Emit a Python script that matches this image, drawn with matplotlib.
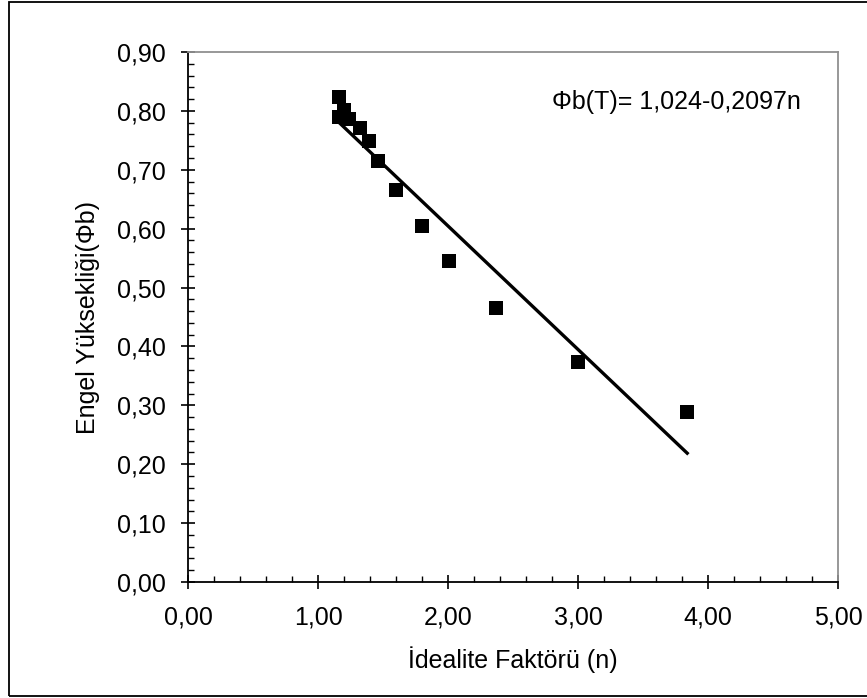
import matplotlib
matplotlib.use("Agg")
import matplotlib.pyplot as plt
from matplotlib.patches import Rectangle
from matplotlib.ticker import MultipleLocator, FuncFormatter

plt.rcParams["font.family"] = ["Liberation Sans", "DejaVu Sans"]

# ideality factor n vs barrier height
n_vals = [1.16, 1.20, 1.16, 1.24, 1.32, 1.39, 1.46, 1.60, 1.80, 2.01, 2.37, 3.00, 3.84]
phi_vals = [0.823, 0.801, 0.789, 0.787, 0.771, 0.749, 0.715, 0.665, 0.604, 0.545, 0.466, 0.374, 0.289]
fit_a, fit_b = 1.024, -0.2097
eq_text = "Φb(T)= 1,024-0,2097n"
xlabel = "İdealite Faktörü (n)"
ylabel = "Engel Yüksekliği(Φb)"

W, H, DPI = 867, 698, 100
fig = plt.figure(figsize=(W / DPI, H / DPI), dpi=DPI)
fig.patches.append(Rectangle((9 / W, 2 / H), 1.0, 694 / H, transform=fig.transFigure,
                             fill=False, edgecolor="black", linewidth=1.3))
ax = fig.add_axes([188 / W, 116 / H, 650 / W, 530 / H])

ax.scatter(n_vals, phi_vals, marker="s", s=95, color="black", zorder=3, linewidths=0)
x0, x1 = min(n_vals), max(n_vals)
ax.plot([x0, x1], [fit_a + fit_b * x0, fit_a + fit_b * x1], color="black", lw=2.4, zorder=2)

ax.set_xlim(0, 5)
ax.set_ylim(0, 0.9)
ax.xaxis.set_major_locator(MultipleLocator(1))
ax.xaxis.set_minor_locator(MultipleLocator(0.2))
ax.yaxis.set_major_locator(MultipleLocator(0.1))
ax.yaxis.set_minor_locator(MultipleLocator(0.02))
fmt = FuncFormatter(lambda v, p: f"{v:.2f}".replace(".", ","))
ax.xaxis.set_major_formatter(fmt)
ax.yaxis.set_major_formatter(fmt)

ax.tick_params(which="major", direction="inout", length=10, width=1.2, labelsize=18, pad=11)
ax.tick_params(which="minor", direction="in", length=4, width=1)
ax.tick_params(axis="x", which="major", pad=12)
for s in ("left", "bottom"):
    ax.spines[s].set_color("black")
    ax.spines[s].set_linewidth(1.3)
for s in ("top", "right"):
    ax.spines[s].set_color("#909090")
    ax.spines[s].set_linewidth(1.3)

ax.text(2.80, 0.815, eq_text, fontsize=18, va="center", ha="left")
ax.set_xlabel(xlabel, fontsize=18, labelpad=12)
ax.set_ylabel(ylabel, fontsize=18, labelpad=12)

fig.savefig("out.png", dpi=DPI)
